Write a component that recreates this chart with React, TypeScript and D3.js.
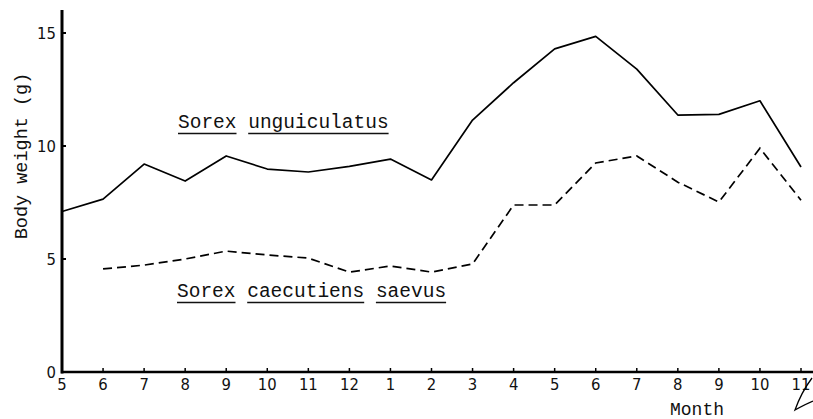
import React from "react";
import * as d3 from "d3";

const months = ["5", "6", "7", "8", "9", "10", "11", "12", "1", "2", "3", "4", "5", "6", "7", "8", "9", "10", "11"];
const unguiculatus = [7.1, 7.65, 9.2, 8.45, 9.56, 8.98, 8.85, 9.1, 9.42, 8.5, 11.15, 12.8, 14.3, 14.85, 13.4, 11.37, 11.4, 12.0, 9.07];
const saevus: (number | null)[] = [null, 4.56, 4.73, 5.0, 5.35, 5.18, 5.04, 4.42, 4.69, 4.42, 4.78, 7.39, 7.39, 9.25, 9.56, 8.4, 7.52, 9.9, 7.6];
const yTicks = [0, 5, 10, 15];

const W = 813;
const H = 419;
const mono = "'Liberation Mono', 'DejaVu Sans Mono', monospace";
const narrow = "'Liberation Sans Narrow', 'DejaVu Sans Condensed', 'Liberation Sans', sans-serif";

function Underlined({ words, x, y, size }: { words: string[]; x: number; y: number; size: number }) {
  const cw = size * 0.6;
  let cx = x;
  const out: React.ReactNode[] = [];
  words.forEach((w, i) => {
    const wWidth = w.length * cw;
    out.push(
      <g key={i}>
        <text x={cx} y={y} fontFamily={mono} fontSize={size} fill="#111">{w}</text>
        <line x1={cx} x2={cx + wWidth} y1={y + 5.5} y2={y + 5.5} stroke="#111" strokeWidth={1.4} />
      </g>
    );
    cx += wWidth + cw;
  });
  return <g>{out}</g>;
}

export default function App() {
  const x = d3.scaleLinear().domain([0, months.length - 1]).range([62, 801]);
  const y = d3.scaleLinear().domain([0, 15]).range([372, 33]);

  const line = d3
    .line<number | null>()
    .defined((d) => d !== null)
    .x((_, i) => x(i))
    .y((d) => y(d as number));

  return (
    <svg width={W} height={H} style={{ position: "absolute", left: 0, top: 0, background: "#fff" }}>
      <rect width={W} height={H} fill="#fff" />
      {/* axes */}
      <line x1={62} x2={62} y1={10} y2={y(0) + 1.5} stroke="#000" strokeWidth={3} />
      <line x1={61} x2={813} y1={y(0)} y2={y(0)} stroke="#000" strokeWidth={2.6} />
      {yTicks.map((t) => (
        <g key={t}>
          {t > 0 && <line x1={62} x2={66} y1={y(t)} y2={y(t)} stroke="#000" strokeWidth={2} />}
          <text
            x={56}
            y={y(t)}
            dy="0.36em"
            textAnchor="end"
            fontFamily={narrow}
            fontSize={16.5}
            fill="#111"
          >
            {t}
          </text>
        </g>
      ))}
      {months.map((m, i) => (
        <g key={i}>
          {i > 0 && <line x1={x(i)} x2={x(i)} y1={y(0)} y2={y(0) - 4} stroke="#000" strokeWidth={1.5} />}
          <text x={x(i)} y={390} textAnchor="middle" fontFamily={narrow} fontSize={16.5} fill="#111">
            {m}
          </text>
        </g>
      ))}
      <text x={697} y={415} textAnchor="middle" fontFamily={mono} fontSize={18} fill="#111">Month</text>
      <text
        transform={`translate(27, 156) rotate(-90)`}
        textAnchor="middle"
        fontFamily={mono}
        fontSize={18.5}
        fill="#111"
      >
        Body weight (g)
      </text>
      {/* series */}
      <path d={line(unguiculatus) || ""} fill="none" stroke="#000" strokeWidth={1.7} strokeLinejoin="round" />
      <path d={line(saevus) || ""} fill="none" stroke="#000" strokeWidth={1.7} strokeDasharray="9,5" />
      <Underlined words={["Sorex", "unguiculatus"]} x={178} y={128} size={19.5} />
      <Underlined words={["Sorex", "caecutiens", "saevus"]} x={177} y={297} size={19.5} />
      {/* hand mark near the end of the axis */}
      <path d="M812,378 C806,386 800,396 795,410 C802,406 808,403 813,401" fill="none" stroke="#000" strokeWidth={1.3} />
    </svg>
  );
}
